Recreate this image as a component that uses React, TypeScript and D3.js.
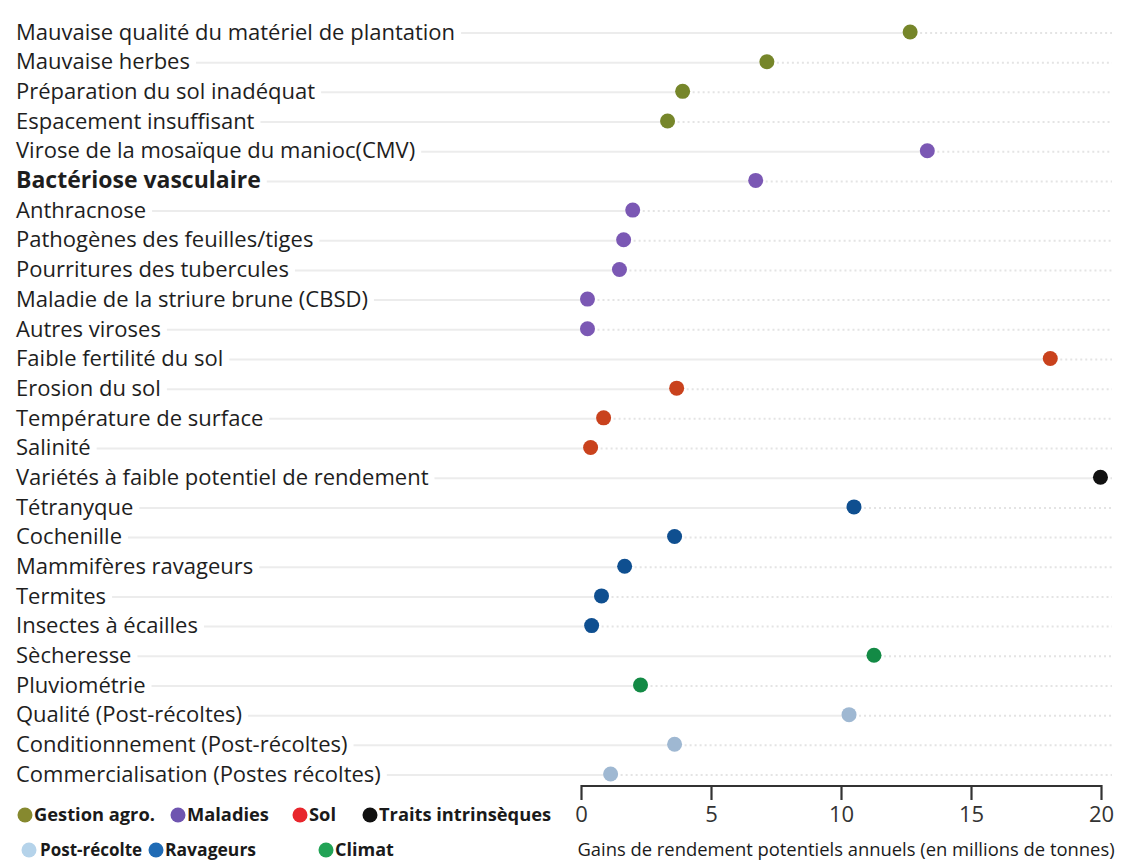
import React, { useEffect, useRef } from "react";
import * as d3 from "d3";

const categories = [
  "Mauvaise qualité du matériel de plantation",
  "Mauvaise herbes",
  "Préparation du sol inadéquat",
  "Espacement insuffisant",
  "Virose de la mosaïque du manioc(CMV)",
  "Bactériose vasculaire",
  "Anthracnose",
  "Pathogènes des feuilles/tiges",
  "Pourritures des tubercules",
  "Maladie de la striure brune (CBSD)",
  "Autres viroses",
  "Faible fertilité du sol",
  "Erosion du sol",
  "Température de surface",
  "Salinité",
  "Variétés à faible potentiel de rendement",
  "Tétranyque",
  "Cochenille",
  "Mammifères ravageurs",
  "Termites",
  "Insectes à écailles",
  "Sècheresse",
  "Pluviométrie",
  "Qualité (Post-récoltes)",
  "Conditionnement (Post-récoltes)",
  "Commercialisation (Postes récoltes)",
];

const values = [
  12.64, 7.13, 3.89, 3.31, 13.3, 6.7, 1.97, 1.62, 1.46, 0.23, 0.23, 18.03, 3.66,
  0.85, 0.35, 19.96, 10.48, 3.58, 1.66, 0.77, 0.39, 11.25, 2.27, 10.29, 3.58, 1.12,
];

const groups = [
  "Gestion agro.", "Gestion agro.", "Gestion agro.", "Gestion agro.",
  "Maladies", "Maladies", "Maladies", "Maladies", "Maladies", "Maladies", "Maladies",
  "Sol", "Sol", "Sol", "Sol",
  "Traits intrinsèques",
  "Ravageurs", "Ravageurs", "Ravageurs", "Ravageurs", "Ravageurs",
  "Climat", "Climat",
  "Post-récolte", "Post-récolte", "Post-récolte",
];

const groupNames = ["Gestion agro.", "Maladies", "Sol", "Traits intrinsèques", "Post-récolte", "Ravageurs", "Climat"];
const pointColors = ["#76862a", "#7b58b4", "#c9421d", "#111111", "#9fb8d2", "#0f4f90", "#138a45"];
const legendColors = ["#86892f", "#6f55b0", "#e8262c", "#111111", "#b5d3ea", "#1f6bb5", "#22a356"];

const xTicks = [0, 5, 10, 15, 20];
const boldLabels = ["Bactériose vasculaire"];

const FONT = "'Open Sans', 'DejaVu Sans', sans-serif";

export default function App() {
  const ref = useRef<SVGSVGElement>(null);

  useEffect(() => {
    const svg = d3.select(ref.current);
    svg.selectAll("*").remove();

    const x = d3.scaleLinear().domain([0, 20]).range([581.5, 1101.5]);
    const y = d3.scalePoint<string>().domain(categories).range([32, 774]);
    const colorPt = d3.scaleOrdinal<string, string>().domain(groupNames).range(pointColors);
    const colorLg = d3.scaleOrdinal<string, string>().domain(groupNames).range(legendColors);

    const gridG = svg.append("g");
    const labelG = svg.append("g");

    const labels = labelG
      .selectAll("text")
      .data(categories)
      .join("text")
      .attr("x", 16)
      .attr("y", (d) => y(d)!)
      .attr("dy", "0.35em")
      .attr("font-family", FONT)
      .attr("font-size", (d) => (boldLabels.includes(d) ? 23 : 22))
      .attr("font-weight", (d) => (boldLabels.includes(d) ? 700 : 400))
      .attr("fill", "#1e1e1e")
      .text((d) => d);

    const ends: number[] = [];
    labels.each(function () {
      const t = this as SVGTextElement;
      ends.push(16 + t.getComputedTextLength());
    });

    categories.forEach((c, i) => {
      const yy = y(c)!;
      const start = ends[i] + 6;
      const xv = x(values[i]);
      if (xv > start) {
        gridG
          .append("line")
          .attr("x1", start)
          .attr("x2", xv)
          .attr("y1", yy + 1)
          .attr("y2", yy + 1)
          .attr("stroke", "#ececec")
          .attr("stroke-width", 2);
      }
      gridG
        .append("line")
        .attr("x1", Math.max(xv, start))
        .attr("x2", 1112)
        .attr("y1", yy + 1)
        .attr("y2", yy + 1)
        .attr("stroke", "#e4e4e4")
        .attr("stroke-width", 2)
        .attr("stroke-dasharray", "2,3");
    });

    svg
      .append("g")
      .selectAll("circle")
      .data(categories)
      .join("circle")
      .attr("cx", (_, i) => x(values[i]))
      .attr("cy", (d) => y(d)!)
      .attr("r", 7.5)
      .attr("fill", (_, i) => colorPt(groups[i]));

    const axisY = 786;
    const ax = svg.append("g");
    ax.append("line")
      .attr("x1", x(0))
      .attr("x2", x(20))
      .attr("y1", axisY)
      .attr("y2", axisY)
      .attr("stroke", "#333")
      .attr("stroke-width", 2.2);
    ax.selectAll("line.tick")
      .data(xTicks)
      .join("line")
      .attr("class", "tick")
      .attr("x1", (d) => x(d))
      .attr("x2", (d) => x(d))
      .attr("y1", axisY - 1)
      .attr("y2", axisY + 14)
      .attr("stroke", "#333")
      .attr("stroke-width", 2.2);
    ax.selectAll("text.tl")
      .data(xTicks)
      .join("text")
      .attr("class", "tl")
      .attr("x", (d) => x(d))
      .attr("y", 814)
      .attr("dy", "0.35em")
      .attr("text-anchor", "middle")
      .attr("font-family", FONT)
      .attr("font-size", 22)
      .attr("fill", "#333")
      .text((d) => String(d));
    ax.append("text")
      .attr("x", 846)
      .attr("y", 850)
      .attr("dy", "0.35em")
      .attr("text-anchor", "middle")
      .attr("font-family", FONT)
      .attr("font-size", 18.4)
      .attr("fill", "#1a1a1a")
      .text("Gains de rendement potentiels annuels (en millions de tonnes)");

    const legendPos = [
      { cx: 25, tx: 34, y: 815, fs: 18.3 },
      { cx: 178, tx: 187, y: 815, fs: 18.3 },
      { cx: 300, tx: 309, y: 815, fs: 18.3 },
      { cx: 370, tx: 379, y: 815, fs: 18.3 },
      { cx: 29, tx: 40, y: 850, fs: 17 },
      { cx: 156, tx: 165, y: 850, fs: 17.5 },
      { cx: 326, tx: 335, y: 850, fs: 18 },
    ];
    const lg = svg.append("g");
    groupNames.forEach((g, i) => {
      const p = legendPos[i];
      lg.append("circle").attr("cx", p.cx).attr("cy", p.y).attr("r", 7.5).attr("fill", colorLg(g));
      lg.append("text")
        .attr("x", p.tx)
        .attr("y", p.y)
        .attr("dy", "0.35em")
        .attr("font-family", FONT)
        .attr("font-size", p.fs)
        .attr("font-weight", 700)
        .attr("fill", "#1a1a1a")
        .text(g);
    });
  }, []);

  return (
    <svg
      ref={ref}
      width={1134}
      height={861}
      style={{ position: "absolute", left: 0, top: 0, background: "#fff" }}
    />
  );
}
